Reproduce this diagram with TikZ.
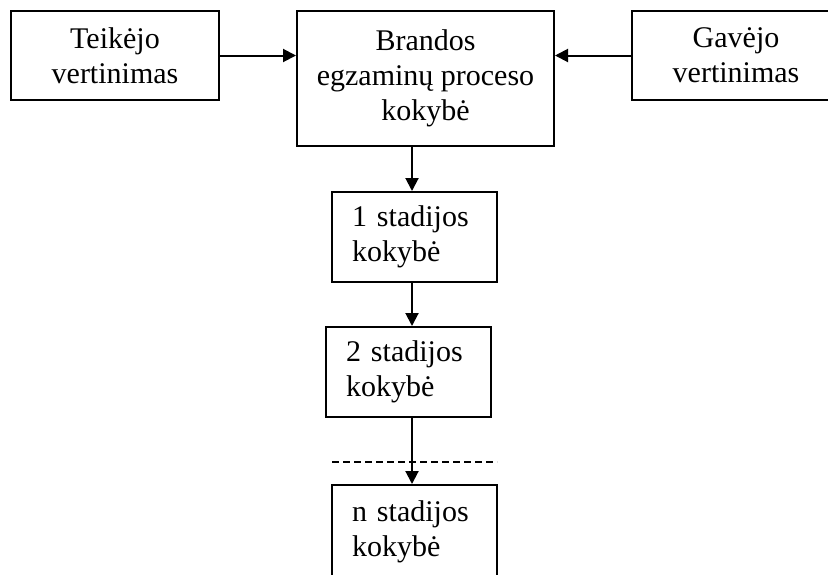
\documentclass[tikz,border=0pt]{standalone}
\usepackage{fontspec}
\setmainfont{Liberation Serif}
\usetikzlibrary{arrows.meta}
\tikzset{
  box/.style={draw, line width=1pt, rectangle, inner sep=0pt, align=center,
    font=\fontsize{15pt}{17.5pt}\selectfont},
  wide/.style={minimum width=104pt, minimum height=44.5pt},
  stagebox/.style={draw, line width=1pt, rectangle, inner xsep=10pt, inner ysep=0pt,
    text width=62.5pt, align=left, minimum width=82.5pt,
    font=\fontsize{15pt}{17.5pt}\selectfont},
  arr/.style={line width=1pt, -{Triangle[length=6.5pt,width=6.5pt]}},
  dashline/.style={line width=0.8pt, dash pattern=on 3.5pt off 2pt}
}
\begin{document}
\begin{tikzpicture}[x=0.5pt,y=-0.5pt]
\useasboundingbox (0,0) rectangle (828,574);
\clip (0,0) rectangle (828,574);
\node[box, wide] (teik) at (115,55.5) {Teikėjo\\vertinimas};
\node[box, minimum width=128.5pt, minimum height=67.5pt] (brand) at (425.5,78.5) {Brandos\\egzaminų proceso\\kokybė};
\node[box, wide] (gav) at (736,55.5) {Gavėjo\\vertinimas};
\node[stagebox, minimum height=45pt] (s1) at (414.5,237) {1 stadijos\\kokybė};
\node[stagebox, minimum height=45pt] (s2) at (408.5,372) {2 stadijos\\kokybė};
\node[stagebox, minimum height=46.5pt] (sn) at (414.5,531.5) {n stadijos\\kokybė};
\coordinate (xa) at (412,0);
\coordinate (dl) at (332,462);
\coordinate (dr) at (497,462);
\draw[arr] (teik.east) -- (brand.west |- teik.east);
\draw[arr] (gav.west) -- (brand.east |- gav.west);
\draw[dashline] (dl) -- (dr);
\draw[arr] (brand.south -| xa) -- (s1.north -| xa);
\draw[arr] (s1.south -| xa) -- (s2.north -| xa);
\draw[arr] (s2.south -| xa) -- (sn.north -| xa);
\end{tikzpicture}
\end{document}
